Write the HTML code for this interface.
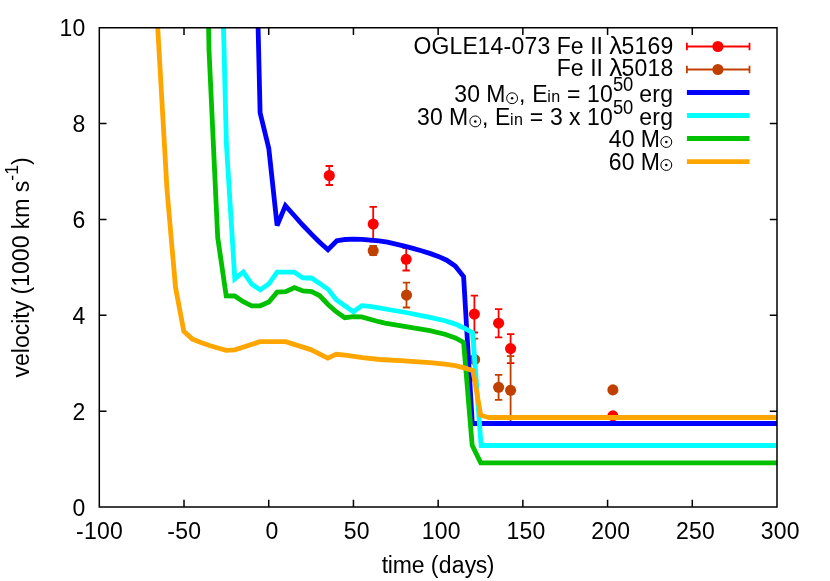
<!DOCTYPE html>
<html><head><meta charset="utf-8"><title>plot</title>
<style>
html,body{margin:0;padding:0;background:#fff;}
svg{display:block;will-change:transform;}
text{font-family:"Liberation Sans",sans-serif;fill:#000;}
</style></head><body>
<svg width="830" height="581" viewBox="0 0 830 581">
<rect width="830" height="581" fill="#fff"/>
<defs><clipPath id="c"><rect x="99.3" y="27.75" width="677.7" height="479.2"/></clipPath></defs>
<g clip-path="url(#c)">
<path d="M329.3,166.0V185.0M325.6,166.0h7.4M325.6,185.0h7.4" stroke="#ff0000" stroke-width="1.8" fill="none"/>
<circle cx="329.3" cy="175.5" r="5.55" fill="#ff0000"/>
<path d="M373.2,206.9V241.3M369.5,206.9h7.4M369.5,241.3h7.4" stroke="#ff0000" stroke-width="1.8" fill="none"/>
<circle cx="373.2" cy="224.1" r="5.55" fill="#ff0000"/>
<path d="M406.2,248.1V270.5M402.5,248.1h7.4M402.5,270.5h7.4" stroke="#ff0000" stroke-width="1.8" fill="none"/>
<circle cx="406.2" cy="259.3" r="5.55" fill="#ff0000"/>
<path d="M474.4,295.7V332.5M470.7,295.7h7.4M470.7,332.5h7.4" stroke="#ff0000" stroke-width="1.8" fill="none"/>
<circle cx="474.4" cy="314.1" r="5.55" fill="#ff0000"/>
<path d="M498.6,309.1V337.3M494.9,309.1h7.4M494.9,337.3h7.4" stroke="#ff0000" stroke-width="1.8" fill="none"/>
<circle cx="498.6" cy="323.2" r="5.55" fill="#ff0000"/>
<path d="M510.6,334.1V363.1M506.9,334.1h7.4M506.9,363.1h7.4" stroke="#ff0000" stroke-width="1.8" fill="none"/>
<circle cx="510.6" cy="348.6" r="5.55" fill="#ff0000"/>
<circle cx="612.9" cy="415.9" r="5.55" fill="#ff0000"/>
<path d="M373.2,246.0V255.2M369.5,246.0h7.4M369.5,255.2h7.4" stroke="#c04000" stroke-width="1.8" fill="none"/>
<circle cx="373.2" cy="250.6" r="5.55" fill="#c04000"/>
<path d="M406.5,282.7V307.5M402.8,282.7h7.4M402.8,307.5h7.4" stroke="#c04000" stroke-width="1.8" fill="none"/>
<circle cx="406.5" cy="295.1" r="5.55" fill="#c04000"/>
<path d="M474.6,338.6V380.4M470.9,338.6h7.4M470.9,380.4h7.4" stroke="#c04000" stroke-width="1.8" fill="none"/>
<circle cx="474.6" cy="359.5" r="5.55" fill="#c04000"/>
<path d="M498.6,374.8V399.8M494.9,374.8h7.4M494.9,399.8h7.4" stroke="#c04000" stroke-width="1.8" fill="none"/>
<circle cx="498.6" cy="387.3" r="5.55" fill="#c04000"/>
<path d="M510.6,356.1V424.5M506.9,356.1h7.4M506.9,424.5h7.4" stroke="#c04000" stroke-width="1.8" fill="none"/>
<circle cx="510.6" cy="390.3" r="5.55" fill="#c04000"/>
<circle cx="612.9" cy="389.9" r="5.55" fill="#c04000"/>
<polyline points="257.4,0.0 258.1,27.5 260.1,112.7 268.8,148.5 277.1,225.6 285.4,205.7 294.2,215.5 302.7,225.0 311.2,233.9 319.6,242.2 328.0,249.7 336.8,240.8 345.1,239.5 353.6,239.1 362.1,239.4 370.5,240.1 379.0,240.8 387.4,242.2 395.9,244.2 404.4,246.2 412.9,248.4 421.3,250.8 429.8,253.4 438.3,256.4 446.7,260.2 455.2,266.0 463.6,276.6 472.3,423.5 777.5,423.5" fill="none" stroke="#0000ff" stroke-width="4.8" stroke-linejoin="miter" stroke-miterlimit="3.8" stroke-linecap="butt"/>
<polyline points="223.2,10.0 223.5,27.5 226.4,144.0 234.8,278.9 243.3,272.0 251.9,284.3 260.3,289.9 268.9,283.8 277.1,272.1 294.2,272.1 302.8,277.9 311.4,278.0 319.8,283.5 328.2,289.4 336.2,299.7 353.4,311.7 361.7,305.7 370.0,306.4 405.9,312.5 429.9,317.3 444.9,320.7 455.4,324.1 464.4,328.2 472.6,332.7 481.1,445.5 777.5,445.5" fill="none" stroke="#00ffff" stroke-width="4.8" stroke-linejoin="miter" stroke-miterlimit="3.8" stroke-linecap="butt"/>
<polyline points="208.3,10.0 208.6,27.5 209.0,50.0 217.7,237.4 226.2,295.8 234.7,296.0 243.3,301.7 251.7,305.8 260.2,305.8 268.9,302.0 277.1,292.1 285.7,291.7 294.4,287.5 303.0,291.0 311.6,291.6 319.5,295.5 328.0,304.5 336.2,311.7 344.7,317.7 353.4,316.6 361.7,316.9 370.0,319.2 378.9,321.7 385.0,323.2 405.9,326.7 429.9,330.7 444.9,334.2 455.4,337.9 463.6,342.4 472.2,445.4 480.7,462.9 777.5,462.9" fill="none" stroke="#00c000" stroke-width="4.8" stroke-linejoin="miter" stroke-miterlimit="3.8" stroke-linecap="butt"/>
<polyline points="157.3,10.0 157.7,27.5 167.0,189.6 175.5,287.3 183.8,331.2 192.4,339.1 200.9,342.5 209.4,345.5 217.9,348.0 226.1,350.3 234.9,349.8 259.9,341.7 285.7,341.7 310.7,349.6 327.8,358.1 336.2,354.3 347.0,355.4 362.4,357.7 380.0,359.5 404.2,360.9 429.9,362.6 444.9,364.1 455.4,365.6 464.4,367.9 473.0,370.6 480.7,415.2 488.7,417.5 777.5,417.5" fill="none" stroke="#ffa500" stroke-width="4.8" stroke-linejoin="miter" stroke-miterlimit="3.8" stroke-linecap="butt"/>
</g>
<path d="M686.9,46.5H749.5M686.9,42.8v7.4M749.5,42.8v7.4" stroke="#ff0000" stroke-width="1.8" fill="none"/>
<circle cx="717.9" cy="46.5" r="5.55" fill="#ff0000"/>
<path d="M686.9,69.5H749.5M686.9,65.8v7.4M749.5,65.8v7.4" stroke="#c04000" stroke-width="1.8" fill="none"/>
<circle cx="717.9" cy="69.5" r="5.55" fill="#c04000"/>
<path d="M686.9,92.5H749.5" stroke="#0000ff" stroke-width="4.8" fill="none"/>
<path d="M686.9,115.5H749.5" stroke="#00ffff" stroke-width="4.8" fill="none"/>
<path d="M686.9,138.5H749.5" stroke="#00c000" stroke-width="4.8" fill="none"/>
<path d="M686.9,161.6H749.5" stroke="#ffa500" stroke-width="4.8" fill="none"/>
<path d="M99.3,27.75H777.0V507.0H99.3ZM184.01,507.0v-7.2M184.01,27.75v7.2M268.73,507.0v-7.2M268.73,27.75v7.2M353.44,507.0v-7.2M353.44,27.75v7.2M438.15,507.0v-7.2M438.15,27.75v7.2M522.86,507.0v-7.2M522.86,27.75v7.2M607.58,507.0v-7.2M607.58,27.75v7.2M692.29,507.0v-7.2M692.29,27.75v7.2M99.3,411.15h7.2M777.0,411.15h-7.2M99.3,315.30h7.2M777.0,315.30h-7.2M99.3,219.45h7.2M777.0,219.45h-7.2M99.3,123.60h7.2M777.0,123.60h-7.2" stroke="#000" stroke-width="1.5" fill="none" stroke-linejoin="miter"/>
<g>
<text transform="translate(0,538.60) scale(1,1.05)" xml:space="preserve"><tspan font-size="23" x="76.00 84.00 97.00 110.00" y="0.00">-100</tspan></text>
<text transform="translate(0,538.60) scale(1,1.05)" xml:space="preserve"><tspan font-size="23" x="167.21 175.21 188.21" y="0.00">-50</tspan></text>
<text transform="translate(0,538.60) scale(1,1.05)" xml:space="preserve"><tspan font-size="23" x="259.43 265.43" y="0.00"> 0</tspan></text>
<text transform="translate(0,538.60) scale(1,1.05)" xml:space="preserve"><tspan font-size="23" x="337.64 343.64 356.64" y="0.00"> 50</tspan></text>
<text transform="translate(0,538.60) scale(1,1.05)" xml:space="preserve"><tspan font-size="23" x="415.85 421.85 434.85 447.85" y="0.00"> 100</tspan></text>
<text transform="translate(0,538.60) scale(1,1.05)" xml:space="preserve"><tspan font-size="23" x="500.56 506.56 519.56 532.56" y="0.00"> 150</tspan></text>
<text transform="translate(0,538.60) scale(1,1.05)" xml:space="preserve"><tspan font-size="23" x="585.28 591.28 604.28 617.28" y="0.00"> 200</tspan></text>
<text transform="translate(0,538.60) scale(1,1.05)" xml:space="preserve"><tspan font-size="23" x="669.99 675.99 688.99 701.99" y="0.00"> 250</tspan></text>
<text transform="translate(0,538.60) scale(1,1.05)" xml:space="preserve"><tspan font-size="23" x="754.70 760.70 773.70 786.70" y="0.00"> 300</tspan></text>
<text transform="translate(0,515.70) scale(1,1.05)" xml:space="preserve"><tspan font-size="23" x="72.60" y="0.00">0</tspan></text>
<text transform="translate(0,419.85) scale(1,1.05)" xml:space="preserve"><tspan font-size="23" x="72.60" y="0.00">2</tspan></text>
<text transform="translate(0,324.00) scale(1,1.05)" xml:space="preserve"><tspan font-size="23" x="72.60" y="0.00">4</tspan></text>
<text transform="translate(0,228.15) scale(1,1.05)" xml:space="preserve"><tspan font-size="23" x="72.60" y="0.00">6</tspan></text>
<text transform="translate(0,132.30) scale(1,1.05)" xml:space="preserve"><tspan font-size="23" x="72.60" y="0.00">8</tspan></text>
<text transform="translate(0,36.45) scale(1,1.05)" xml:space="preserve"><tspan font-size="23" x="59.60 72.60" y="0.00">10</tspan></text>
<text transform="translate(0,572.50) scale(1,1.05)" xml:space="preserve"><tspan font-size="23" x="381.70 387.70 392.70 411.70 424.70 430.70 438.70 451.70 464.70 475.70 486.70" y="0.00">time (days)</tspan></text>
<text transform="translate(28.5,267.4) rotate(-90) scale(1,1.05)" text-anchor="middle" font-size="23">velocity (1000 km s<tspan font-size="17.6" dy="-10.00">-1</tspan><tspan dy="10.00">)</tspan></text>
<text transform="translate(0,53.60) scale(1,1.05)" xml:space="preserve"><tspan font-size="23" x="556.70 570.70" y="0.00">Fe</tspan></text>
<text transform="translate(0,53.60) scale(1,1.05)" xml:space="preserve"><tspan font-size="23" x="590.20" y="0.00">I</tspan></text>
<text transform="translate(0,53.60) scale(1,1.05)" xml:space="preserve"><tspan font-size="23" x="596.50" y="0.00">I</tspan></text>
<text transform="translate(609.3,53.6) scale(1.13,1.05)" font-size="23">λ</text>
<text transform="translate(0,53.60) scale(1,1.05)" xml:space="preserve"><tspan font-size="23" x="621.50 634.50 647.50 660.50" y="0.00">5169</tspan></text>
<text transform="translate(0,76.40) scale(1,1.05)" xml:space="preserve"><tspan font-size="23" x="556.70 570.70" y="0.00">Fe</tspan></text>
<text transform="translate(0,76.40) scale(1,1.05)" xml:space="preserve"><tspan font-size="23" x="590.20" y="0.00">I</tspan></text>
<text transform="translate(0,76.40) scale(1,1.05)" xml:space="preserve"><tspan font-size="23" x="596.50" y="0.00">I</tspan></text>
<text transform="translate(609.3,76.4) scale(1.13,1.05)" font-size="23">λ</text>
<text transform="translate(0,76.40) scale(1,1.05)" xml:space="preserve"><tspan font-size="23" x="621.50 634.50 647.50 660.50" y="0.00">5018</tspan></text>
<text transform="translate(0,53.60) scale(1,1.05)" xml:space="preserve"><tspan font-size="23" x="413.40 431.40 449.40 462.40 477.40 490.40 503.40 511.40 524.40 537.40" y="0.00">OGLE14-073</tspan></text>
<text transform="translate(0,102.10) scale(1,1.05)" xml:space="preserve"><tspan font-size="23" x="454.30 467.30 480.30 486.30" y="0.00">30 M</tspan></text>
<circle cx="512.1" cy="98.2" r="5.45" fill="none" stroke="#000" stroke-width="1"/><circle cx="512.1" cy="98.2" r="1.25" fill="#000"/>
<text transform="translate(0,102.10) scale(1,1.05)" xml:space="preserve"><tspan font-size="23" x="518.90" y="0.00">,</tspan></text>
<text transform="translate(0,102.10) scale(1,1.05)" xml:space="preserve"><tspan font-size="23" x="532.20" y="0.00">E</tspan><tspan font-size="16.1" x="547.20 551.20" y="0.00">in</tspan></text>
<text transform="translate(0,102.10) scale(1,1.05)" xml:space="preserve"><tspan font-size="23" x="587.10 600.10" y="0.00">10</tspan><tspan font-size="18.4" x="613.10 623.10" y="-10.67">50</tspan></text>
<text transform="translate(0,102.10) scale(1,1.05)" xml:space="preserve"><tspan font-size="23" x="639.30 652.30 660.30" y="0.00">erg</tspan></text>
<text transform="translate(0,125.40) scale(1,1.05)" xml:space="preserve"><tspan font-size="23" x="416.90 429.90 442.90 448.90" y="0.00">30 M</tspan></text>
<circle cx="475.3" cy="121.4" r="5.45" fill="none" stroke="#000" stroke-width="1"/><circle cx="475.3" cy="121.4" r="1.25" fill="#000"/>
<text transform="translate(0,125.40) scale(1,1.05)" xml:space="preserve"><tspan font-size="23" x="482.10" y="0.00">,</tspan></text>
<text transform="translate(0,125.40) scale(1,1.05)" xml:space="preserve"><tspan font-size="23" x="495.00" y="0.00">E</tspan><tspan font-size="16.1" x="510.00 514.00" y="0.00">in</tspan></text>
<text transform="translate(0,125.40) scale(1,1.05)" xml:space="preserve"><tspan font-size="23" x="587.10 600.10" y="0.00">10</tspan><tspan font-size="18.4" x="613.10 623.10" y="-10.67">50</tspan></text>
<text transform="translate(0,125.40) scale(1,1.05)" xml:space="preserve"><tspan font-size="23" x="639.30 652.30 660.30" y="0.00">erg</tspan></text>
<text transform="translate(0,102.10) scale(1,1.05)" xml:space="preserve"><tspan font-size="23" x="567.00" y="0.00">=</tspan></text>
<text transform="translate(0,125.40) scale(1,1.05)" xml:space="preserve"><tspan font-size="23" x="529.70" y="0.00">=</tspan></text>
<text transform="translate(0,125.40) scale(1,1.05)" xml:space="preserve"><tspan font-size="23" x="550.00" y="0.00">3</tspan></text>
<text transform="translate(0,125.40) scale(1,1.05)" xml:space="preserve"><tspan font-size="23" x="569.10" y="0.00">x</tspan></text>
<text transform="translate(0,146.80) scale(1,1.05)" xml:space="preserve"><tspan font-size="23" x="608.70 621.70 634.70 640.70" y="0.00">40 M</tspan></text><circle cx="666.3" cy="142.0" r="5.45" fill="none" stroke="#000" stroke-width="1"/><circle cx="666.3" cy="142.0" r="1.25" fill="#000"/>
<text transform="translate(0,169.80) scale(1,1.05)" xml:space="preserve"><tspan font-size="23" x="608.70 621.70 634.70 640.70" y="0.00">60 M</tspan></text><circle cx="666.3" cy="165.0" r="5.45" fill="none" stroke="#000" stroke-width="1"/><circle cx="666.3" cy="165.0" r="1.25" fill="#000"/>
</g>
</svg></body></html>
